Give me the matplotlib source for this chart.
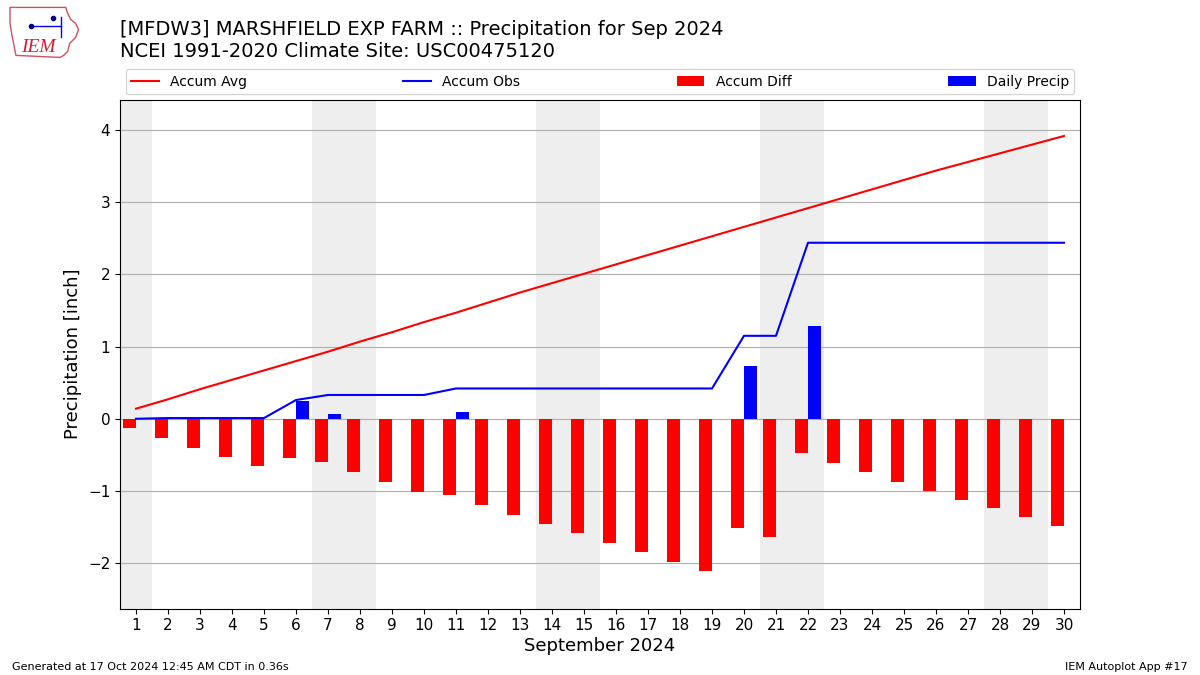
import matplotlib
matplotlib.use("Agg")
import matplotlib.pyplot as plt
from matplotlib.patches import Polygon

TITLE = "[MFDW3] MARSHFIELD EXP FARM :: Precipitation for Sep 2024\nNCEI 1991-2020 Climate Site: USC00475120"
days = list(range(1, 31))
accum_avg = [0.14, 0.27, 0.41, 0.54, 0.67, 0.80, 0.93, 1.07, 1.20, 1.34, 1.47, 1.61, 1.75, 1.88, 2.01, 2.14, 2.27, 2.40, 2.53, 2.66, 2.79, 2.92, 3.05, 3.18, 3.31, 3.44, 3.56, 3.68, 3.80, 3.92]
accum_obs = [0.00, 0.01, 0.01, 0.01, 0.01, 0.26, 0.33, 0.33, 0.33, 0.33, 0.42, 0.42, 0.42, 0.42, 0.42, 0.42, 0.42, 0.42, 0.42, 1.15, 1.15, 2.44, 2.44, 2.44, 2.44, 2.44, 2.44, 2.44, 2.44, 2.44]
accum_diff = [-0.13, -0.26, -0.40, -0.53, -0.66, -0.54, -0.60, -0.74, -0.87, -1.01, -1.05, -1.19, -1.33, -1.46, -1.59, -1.72, -1.85, -1.98, -2.11, -1.51, -1.64, -0.48, -0.61, -0.74, -0.87, -1.00, -1.12, -1.24, -1.36, -1.48]
daily_precip = [0, 0.01, 0, 0, 0, 0.25, 0.07, 0, 0, 0, 0.09, 0, 0, 0, 0, 0, 0, 0, 0, 0.73, 0, 1.29, 0, 0, 0, 0, 0, 0, 0, 0]
weekends = [(0.5, 1.5), (6.5, 8.5), (13.5, 15.5), (20.5, 22.5), (27.5, 29.5)]
yticks = [-2, -1, 0, 1, 2, 3, 4]

fig = plt.figure(figsize=(12, 6.75), dpi=100)
ax = fig.add_axes([0.1, 0.0985, 0.8, 0.7535])
for a, b in weekends:
    ax.axvspan(a, b, color="#eeeeee", lw=0, zorder=0)
ax.grid(axis="y", color="#b0b0b0", lw=0.8, zorder=1)
ax.set_axisbelow(True)
ax.bar([d - 0.2 for d in days], accum_diff, width=0.4, color="red", label="Accum Diff", zorder=2)
ax.bar([d + 0.2 for d in days], daily_precip, width=0.4, color="blue", label="Daily Precip", zorder=2)
l1, = ax.plot(days, accum_avg, color="red", lw=1.5, label="Accum Avg", zorder=3)
l2, = ax.plot(days, accum_obs, color="blue", lw=1.5, label="Accum Obs", zorder=3)
ax.set_xlim(0.5, 30.5)
ax.set_ylim(-2.63, 4.42)
ax.set_xticks(days)
ax.set_yticks(yticks)
ax.set_yticklabels([("\u2212%d" % -v) if v < 0 else str(v) for v in yticks])
ax.tick_params(labelsize=10)
ax.tick_params(axis="y", labelsize=11)
ax.tick_params(axis="x", labelsize=11)
ax.set_xlabel("September 2024", fontsize=13, labelpad=3)
ax.set_ylabel("Precipitation [inch]", fontsize=13)

h, lab = ax.get_legend_handles_labels()
order = ["Accum Avg", "Accum Obs", "Accum Diff", "Daily Precip"]
hs = [h[lab.index(o)] for o in order]
ax.legend(hs, order, ncol=4, mode="expand", loc="lower left",
          bbox_to_anchor=(0, 1.0, 1, 0.1), borderaxespad=0.4, fontsize=10)

fig.text(0.1, 0.9225, TITLE, fontsize=14, va="bottom", ha="left", linespacing=1.1) if False else None
fig.text(0.1, 0.91, TITLE, fontsize=14, va="bottom", ha="left")
fig.text(0.01, 0.0125, "Generated at 17 Oct 2024 12:45 AM CDT in 0.36s", fontsize=8, va="center")
fig.text(0.99, 0.0125, "IEM Autoplot App #17", fontsize=8, va="center", ha="right")

# small logo
logo = fig.add_axes([0.005, 0.912, 0.063, 0.08])
logo.set_xlim(0, 76)
logo.set_ylim(54, 0)
logo.axis("off")
outline = [(4,2),(60,2),(62,8),(65,14),(70,18),(73,24),(70,32),(64,38),(62,46),(58,50),(54,52),(10,50),(8,40),(6,30),(4,18)]
logo.add_patch(Polygon(outline, closed=True, fill=False, edgecolor="#d05060", lw=1))
logo.plot([24, 55], [21, 21], color="blue", lw=1)
logo.plot([55, 55], [12, 32], color="blue", lw=1)
logo.plot([25], [21], "o", color="#000088", ms=3)
logo.plot([47], [13], "o", color="#000088", ms=3)
logo.text(15, 42, "IEM", color="#d02030", fontsize=14, family="Liberation Serif", style="italic", va="center")

fig.savefig("out.png", dpi=100)
